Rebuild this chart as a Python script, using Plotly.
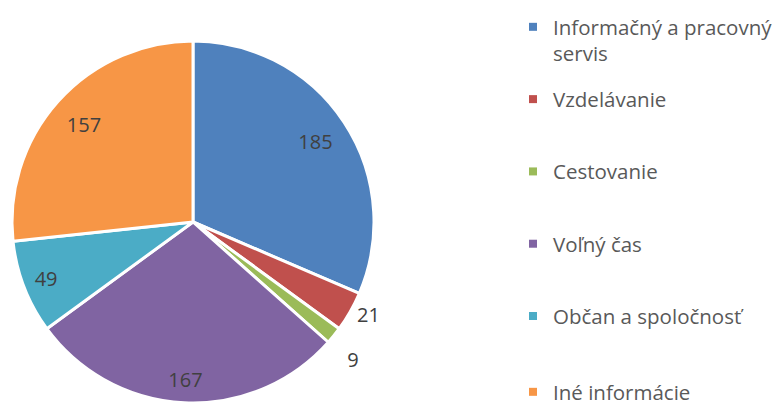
import plotly.graph_objects as go

categories = ["Informačný a pracovný servis", "Vzdelávanie", "Cestovanie",
              "Voľný čas", "Občan a spoločnosť", "Iné informácie"]
legend_labels = ["Informačný a pracovný<br>servis", "Vzdelávanie<br> ",
                 "Cestovanie<br> ", "Voľný čas<br> ",
                 "Občan a spoločnosť<br> ", "Iné informácie"]
values = [185, 21, 9, 167, 49, 157]
colors = ["#4F81BD", "#C0504D", "#9BBB59", "#8064A2", "#4BACC6", "#F79646"]

W, H = 778, 403
FONT = "Open Sans, sans-serif"
LABEL_FONT = dict(family=FONT, size=20, color="#404040")
LEGEND_FONT = dict(family=FONT, size=20.5, color="#595959")
domain = dict(x=[12 / W, 374 / W], y=[0, 362 / H])
common = dict(labels=categories, values=values, sort=False,
              direction="clockwise", rotation=0, domain=domain)
clear = ["rgba(0,0,0,0)"] * len(values)

fig = go.Figure()
# visible slices
fig.add_trace(go.Pie(
    **common,
    marker=dict(colors=colors, line=dict(color="white", width=3)),
    textinfo="none",
    showlegend=False,
    hoverinfo="label+value",
))
# transparent ring carrying labels of the upper slices
fig.add_trace(go.Pie(
    **common,
    hole=0.62,
    marker=dict(colors=clear, line=dict(color="rgba(0,0,0,0)", width=0)),
    texttemplate="%{value}",
    textposition=["inside", "outside", "none", "none", "none", "inside"],
    insidetextorientation="horizontal",
    textfont=LABEL_FONT, insidetextfont=LABEL_FONT, outsidetextfont=LABEL_FONT,
    showlegend=False,
    hoverinfo="skip",
))
# transparent ring carrying labels of the lower slices
fig.add_trace(go.Pie(
    **common,
    hole=0.74,
    marker=dict(colors=clear, line=dict(color="rgba(0,0,0,0)", width=0)),
    texttemplate=["%{value}", "%{value}", "\u00a0<br>%{value}", "%{value}", "%{value}", "%{value}"],
    textposition=["none", "none", "outside", "inside", "inside", "none"],
    insidetextorientation="horizontal",
    textfont=LABEL_FONT, insidetextfont=LABEL_FONT, outsidetextfont=LABEL_FONT,
    showlegend=False,
    hoverinfo="skip",
))
# legend entries (one per category); the last one sits in its own legend box
for i, (lab, col) in enumerate(zip(legend_labels, colors)):
    fig.add_trace(go.Scatter(
        x=[None], y=[None], mode="markers", name=lab,
        marker=dict(symbol="square", size=8, color=col),
        legendgroup=f"g{i}", showlegend=True, hoverinfo="skip",
        legend="legend" if i < len(values) - 1 else "legend2",
    ))

fig.update_layout(
    width=W, height=H,
    margin=dict(l=0, r=0, t=0, b=0, autoexpand=False),
    paper_bgcolor="white", plot_bgcolor="white",
    xaxis=dict(visible=False), yaxis=dict(visible=False),
    showlegend=True,
    legend=dict(x=513 / W, xanchor="left", y=1 - 7 / H, yanchor="top",
                font=LEGEND_FONT, valign="top", traceorder="grouped",
                tracegroupgap=16, bgcolor="rgba(0,0,0,0)"),
    legend2=dict(x=513 / W, xanchor="left", y=-9 / H, yanchor="bottom",
                 font=LEGEND_FONT, valign="top",
                 bgcolor="rgba(0,0,0,0)"),
)
fig.write_html("out.html", config={"displayModeBar": False})

with open("out.html", encoding="utf-8") as f:
    html = f.read()
html = html.replace("<body>", '<body style="margin:0;overflow:hidden">', 1)
with open("out.html", "w", encoding="utf-8") as f:
    f.write(html)
